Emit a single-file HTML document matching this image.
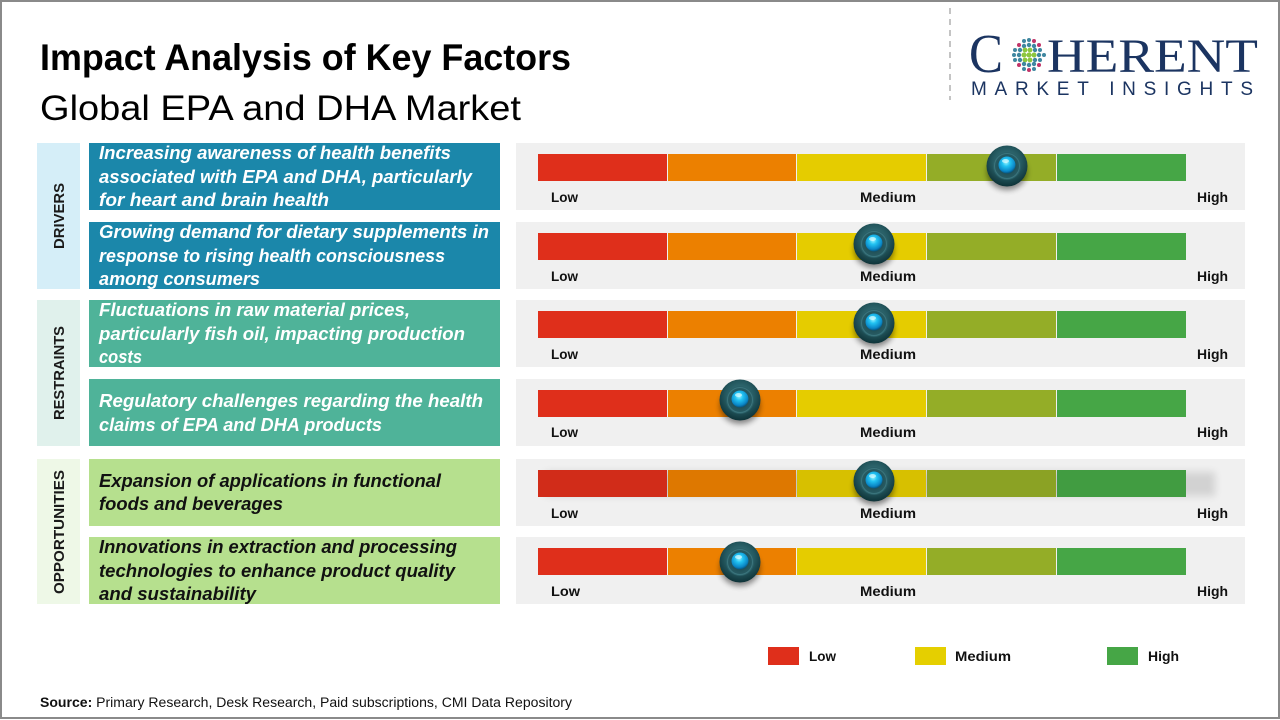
<!DOCTYPE html>
<html><head><meta charset="utf-8"><style>
html,body{margin:0;padding:0;background:#fff;}
svg{display:block;}
</style></head><body>
<svg width="1280" height="720" viewBox="0 0 1280 720" xmlns="http://www.w3.org/2000/svg">
<defs>
<radialGradient id="ring" cx="50%" cy="40%" r="60%">
<stop offset="0" stop-color="#3f7f87"/><stop offset="0.6" stop-color="#24585f"/><stop offset="1" stop-color="#0e3338"/>
</radialGradient>
<radialGradient id="inner" cx="50%" cy="50%" r="50%">
<stop offset="0" stop-color="#173f45"/><stop offset="1" stop-color="#2a6068"/>
</radialGradient>
<radialGradient id="ball" cx="45%" cy="35%" r="65%">
<stop offset="0" stop-color="#9af4ff"/><stop offset="0.35" stop-color="#22c3f2"/><stop offset="0.8" stop-color="#0a86c6"/><stop offset="1" stop-color="#07527a"/>
</radialGradient>
<filter id="blur" x="-50%" y="-50%" width="200%" height="200%"><feGaussianBlur stdDeviation="3"/></filter>
<filter id="blur2" x="-10%" y="-50%" width="120%" height="200%"><feGaussianBlur stdDeviation="4"/></filter>
<g id="knob">
<ellipse cx="0" cy="6" rx="20" ry="18" fill="#000" opacity="0.45" filter="url(#blur)"/>
<circle r="20.5" fill="url(#ring)"/>
<circle r="14" fill="url(#inner)"/>
<circle r="12.5" fill="none" stroke="#3b757d" stroke-width="1"/>
<circle cy="-1" r="8.5" fill="url(#ball)"/>
<ellipse cx="-1.5" cy="-5" rx="3.5" ry="2" fill="#d8fbff" opacity="0.7"/>
</g>
<g id="bar">
<rect x="538" y="0" width="129" height="27" fill="#df2f1b"/>
<rect x="668" y="0" width="128" height="27" fill="#ec8000"/>
<rect x="797" y="0" width="129" height="27" fill="#e5cc00"/>
<rect x="927" y="0" width="129" height="27" fill="#94ad27"/>
<rect x="1057" y="0" width="129" height="27" fill="#46a646"/>
</g>
</defs>

<!-- border -->
<rect x="1" y="1" width="1278" height="717" fill="#fff" stroke="#8a8a8a" stroke-width="2"/>

<!-- titles -->
<text x="40" y="70" font-family="Liberation Sans, sans-serif" font-weight="bold" font-size="37" fill="#000" textLength="531" lengthAdjust="spacingAndGlyphs">Impact Analysis of Key Factors</text>
<text x="40" y="120" font-family="Liberation Sans, sans-serif" font-size="35" fill="#000" textLength="481" lengthAdjust="spacingAndGlyphs">Global EPA and DHA Market</text>

<!-- logo -->
<line x1="950" y1="8" x2="950" y2="100" stroke="#b0b0b0" stroke-width="1.5" stroke-dasharray="6,5"/>
<text x="969" y="72" font-family="Liberation Serif, serif" font-size="55" fill="#1b3461" textLength="34" lengthAdjust="spacingAndGlyphs">C</text>
<text x="1047" y="72" font-family="Liberation Serif, serif" font-size="48" fill="#1b3461" textLength="211" lengthAdjust="spacingAndGlyphs">HERENT</text>
<text x="971" y="95" font-family="Liberation Sans, sans-serif" font-size="19" fill="#1b3461" textLength="282" lengthAdjust="spacing">MARKET INSIGHTS</text>
<g>
<circle cx="1024" cy="41" r="2" fill="#3f87a0"/><circle cx="1029" cy="40" r="2" fill="#3f87a0"/><circle cx="1034" cy="41" r="2" fill="#c23468"/>
<circle cx="1019" cy="45" r="2" fill="#c23468"/><circle cx="1024" cy="46" r="2.2" fill="#3f87a0"/><circle cx="1029" cy="45" r="2.2" fill="#3f87a0"/><circle cx="1034" cy="46" r="2.2" fill="#3f87a0"/><circle cx="1039" cy="45" r="2" fill="#c23468"/>
<circle cx="1015" cy="50" r="2" fill="#3f87a0"/><circle cx="1020" cy="50" r="2.2" fill="#3f87a0"/><circle cx="1025" cy="50" r="2.4" fill="#8cc63e"/><circle cx="1030" cy="50" r="2.4" fill="#8cc63e"/><circle cx="1035" cy="50" r="2.2" fill="#3f87a0"/><circle cx="1040" cy="50" r="2" fill="#3f87a0"/>
<circle cx="1014" cy="55" r="2" fill="#3f87a0"/><circle cx="1019" cy="55" r="2.2" fill="#3f87a0"/><circle cx="1024" cy="55" r="2.5" fill="#8cc63e"/><circle cx="1029" cy="55" r="2.5" fill="#8cc63e"/><circle cx="1034" cy="55" r="2.5" fill="#8cc63e"/><circle cx="1039" cy="55" r="2.2" fill="#3f87a0"/><circle cx="1044" cy="55" r="2" fill="#3f87a0"/>
<circle cx="1015" cy="60" r="2" fill="#3f87a0"/><circle cx="1020" cy="60" r="2.2" fill="#3f87a0"/><circle cx="1025" cy="60" r="2.4" fill="#8cc63e"/><circle cx="1030" cy="60" r="2.4" fill="#8cc63e"/><circle cx="1035" cy="60" r="2.2" fill="#3f87a0"/><circle cx="1040" cy="60" r="2" fill="#3f87a0"/>
<circle cx="1019" cy="65" r="2" fill="#c23468"/><circle cx="1024" cy="64" r="2.2" fill="#3f87a0"/><circle cx="1029" cy="65" r="2.2" fill="#3f87a0"/><circle cx="1034" cy="64" r="2.2" fill="#3f87a0"/><circle cx="1039" cy="65" r="2" fill="#c23468"/>
<circle cx="1024" cy="69" r="2" fill="#3f87a0"/><circle cx="1029" cy="70" r="2" fill="#c23468"/><circle cx="1034" cy="69" r="2" fill="#3f87a0"/>
</g>

<!-- category columns -->
<rect x="37" y="143" width="43" height="146" fill="#d5eef8"/>
<rect x="37" y="300" width="43" height="146" fill="#e0f1ec"/>
<rect x="37" y="459" width="43" height="145" fill="#eef8e7"/>
<g font-family="Liberation Sans, sans-serif" font-weight="bold" font-size="15" fill="#1a1a1a" text-anchor="middle">
<text transform="translate(64,216) rotate(-90)" textLength="66" lengthAdjust="spacingAndGlyphs">DRIVERS</text>
<text transform="translate(64,373) rotate(-90)" textLength="94" lengthAdjust="spacingAndGlyphs">RESTRAINTS</text>
<text transform="translate(64,532) rotate(-90)" textLength="124" lengthAdjust="spacingAndGlyphs">OPPORTUNITIES</text>
</g>

<!-- text boxes -->
<rect x="89" y="143" width="411" height="67" fill="#1b87aa"/>
<rect x="89" y="222" width="411" height="67" fill="#1b87aa"/>
<rect x="89" y="300" width="411" height="67" fill="#4fb399"/>
<rect x="89" y="379" width="411" height="67" fill="#4fb399"/>
<rect x="89" y="459" width="411" height="67" fill="#b6e08e"/>
<rect x="89" y="537" width="411" height="67" fill="#b6e08e"/>

<g font-family="Liberation Sans, sans-serif" font-weight="bold" font-style="italic" font-size="18" fill="#fff">
<text x="99" y="159" textLength="352" lengthAdjust="spacingAndGlyphs">Increasing awareness of health benefits</text>
<text x="99" y="183" textLength="373" lengthAdjust="spacingAndGlyphs">associated with EPA and DHA, particularly</text>
<text x="99" y="206" textLength="230" lengthAdjust="spacingAndGlyphs">for heart and brain health</text>
<text x="99" y="238" textLength="390" lengthAdjust="spacingAndGlyphs">Growing demand for dietary supplements in</text>
<text x="99" y="262" textLength="346" lengthAdjust="spacingAndGlyphs">response to rising health consciousness</text>
<text x="99" y="285" textLength="161" lengthAdjust="spacingAndGlyphs">among consumers</text>
<text x="99" y="316" textLength="311" lengthAdjust="spacingAndGlyphs">Fluctuations in raw material prices,</text>
<text x="99" y="340" textLength="366" lengthAdjust="spacingAndGlyphs">particularly fish oil, impacting production</text>
<text x="99" y="363" textLength="43" lengthAdjust="spacingAndGlyphs">costs</text>
<text x="99" y="407" textLength="384" lengthAdjust="spacingAndGlyphs">Regulatory challenges regarding the health</text>
<text x="99" y="431" textLength="283" lengthAdjust="spacingAndGlyphs">claims of EPA and DHA products</text>
</g>
<g font-family="Liberation Sans, sans-serif" font-weight="bold" font-style="italic" font-size="18" fill="#111">
<text x="99" y="487" textLength="342" lengthAdjust="spacingAndGlyphs">Expansion of applications in functional</text>
<text x="99" y="510" textLength="184" lengthAdjust="spacingAndGlyphs">foods and beverages</text>
<text x="99" y="553" textLength="358" lengthAdjust="spacingAndGlyphs">Innovations in extraction and processing</text>
<text x="99" y="577" textLength="356" lengthAdjust="spacingAndGlyphs">technologies to enhance product quality</text>
<text x="99" y="600" textLength="157" lengthAdjust="spacingAndGlyphs">and sustainability</text>
</g>

<!-- gauge panels -->
<g fill="#f0f0f0">
<rect x="516" y="143" width="729" height="67"/>
<rect x="516" y="222" width="729" height="67"/>
<rect x="516" y="300" width="729" height="67"/>
<rect x="516" y="379" width="729" height="67"/>
<rect x="516" y="459" width="729" height="67"/>
<rect x="516" y="537" width="729" height="67"/>
</g>
<rect x="545" y="472" width="670" height="24" fill="#000" opacity="0.12" filter="url(#blur2)"/>
<use href="#bar" y="154"/>
<use href="#bar" y="233"/>
<use href="#bar" y="311"/>
<use href="#bar" y="390"/>
<use href="#bar" y="470"/>
<rect x="538" y="470" width="648" height="27" fill="#000" opacity="0.06"/>
<use href="#bar" y="548"/>

<g font-family="Liberation Sans, sans-serif" font-weight="bold" font-size="14" fill="#111">
<text x="551" y="202" textLength="27" lengthAdjust="spacingAndGlyphs">Low</text>
<text x="860" y="202" textLength="56" lengthAdjust="spacingAndGlyphs">Medium</text>
<text x="1197" y="202" textLength="31" lengthAdjust="spacingAndGlyphs">High</text>
<text x="551" y="281" textLength="27" lengthAdjust="spacingAndGlyphs">Low</text>
<text x="860" y="281" textLength="56" lengthAdjust="spacingAndGlyphs">Medium</text>
<text x="1197" y="281" textLength="31" lengthAdjust="spacingAndGlyphs">High</text>
<text x="551" y="359" textLength="27" lengthAdjust="spacingAndGlyphs">Low</text>
<text x="860" y="359" textLength="56" lengthAdjust="spacingAndGlyphs">Medium</text>
<text x="1197" y="359" textLength="31" lengthAdjust="spacingAndGlyphs">High</text>
<text x="551" y="437" textLength="27" lengthAdjust="spacingAndGlyphs">Low</text>
<text x="860" y="437" textLength="56" lengthAdjust="spacingAndGlyphs">Medium</text>
<text x="1197" y="437" textLength="31" lengthAdjust="spacingAndGlyphs">High</text>
<text x="551" y="518" textLength="27" lengthAdjust="spacingAndGlyphs">Low</text>
<text x="860" y="518" textLength="56" lengthAdjust="spacingAndGlyphs">Medium</text>
<text x="1197" y="518" textLength="31" lengthAdjust="spacingAndGlyphs">High</text>
<text x="551" y="596" textLength="29" lengthAdjust="spacingAndGlyphs">Low</text>
<text x="860" y="596" textLength="56" lengthAdjust="spacingAndGlyphs">Medium</text>
<text x="1197" y="596" textLength="31" lengthAdjust="spacingAndGlyphs">High</text>
</g>

<!-- knobs -->
<use href="#knob" x="1007" y="166"/>
<use href="#knob" x="874" y="244"/>
<use href="#knob" x="874" y="323"/>
<use href="#knob" x="740" y="400"/>
<use href="#knob" x="874" y="481"/>
<use href="#knob" x="740" y="562"/>

<!-- legend -->
<rect x="768" y="647" width="31" height="18" fill="#df2f1b"/>
<rect x="915" y="647" width="31" height="18" fill="#e5cf00"/>
<rect x="1107" y="647" width="31" height="18" fill="#46a646"/>
<g font-family="Liberation Sans, sans-serif" font-weight="bold" font-size="14" fill="#111">
<text x="809" y="661" textLength="27" lengthAdjust="spacingAndGlyphs">Low</text>
<text x="955" y="661" textLength="56" lengthAdjust="spacingAndGlyphs">Medium</text>
<text x="1148" y="661" textLength="31" lengthAdjust="spacingAndGlyphs">High</text>
</g>

<!-- source -->
<text x="40" y="707" font-family="Liberation Sans, sans-serif" font-size="13.5" fill="#111" textLength="532" lengthAdjust="spacingAndGlyphs"><tspan font-weight="bold">Source:</tspan> Primary Research, Desk Research, Paid subscriptions, CMI Data Repository</text>
</svg>
</body></html>
